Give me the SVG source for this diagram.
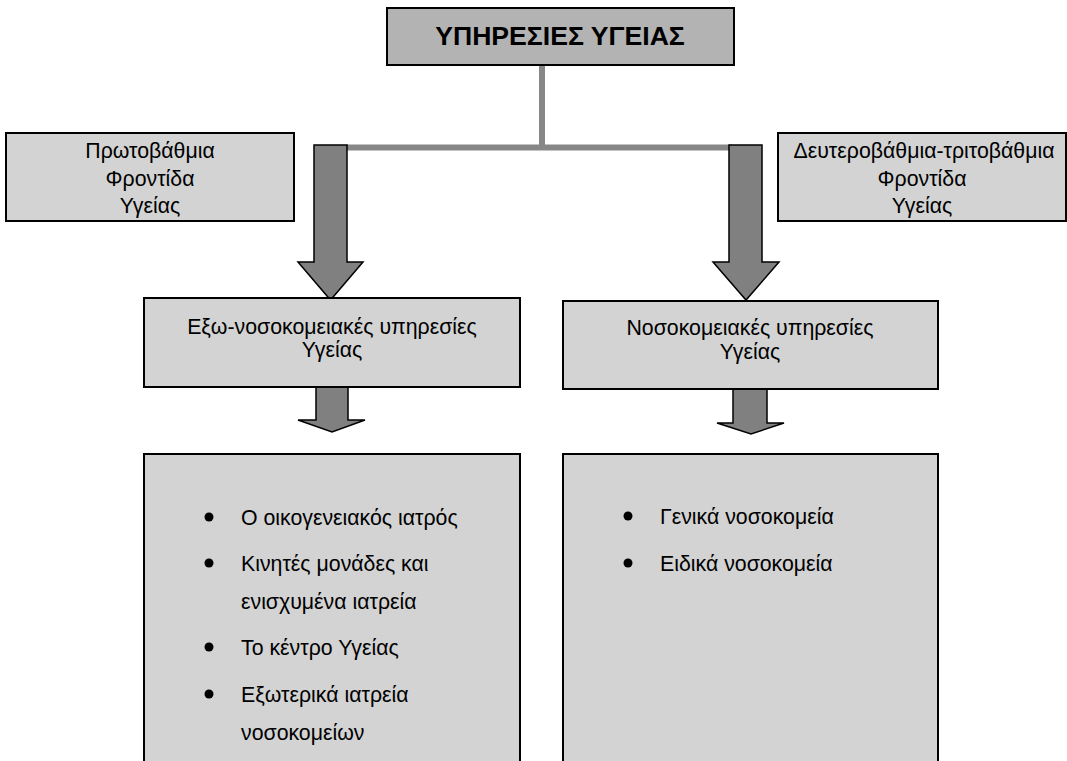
<svg xmlns="http://www.w3.org/2000/svg" width="1067" height="761" viewBox="0 0 1067 761">
<style>
.box{fill:#d3d3d3;stroke:#000;stroke-width:2}
.top{fill:#b3b3b3;stroke:#000;stroke-width:2}
.arrow{fill:#808080;stroke:#000;stroke-width:1.5;stroke-linejoin:miter}
.conn{stroke:#878787;stroke-width:6;fill:none}
text{font-family:"Liberation Sans",Arial,sans-serif;font-size:21.3px;fill:#000}
.c{text-anchor:middle}
.title{font-size:26.6px;font-weight:bold}
</style>
<rect width="1067" height="761" fill="#fff"/>
<g id="connectors">
<path class="conn" d="M542 65 V150"/>
<path class="conn" d="M346 147.5 H732"/>
<path class="arrow" d="M314 145 H347 V262 H363 L330.5 300 L298 262 H314 Z"/>
<path class="arrow" d="M729 145 H762 V262 H779 L746 300 L713 262 H729 Z"/>
<path class="arrow" d="M316 387 H348 V420 H365 L332 432 L298 420 H316 Z"/>
<path class="arrow" d="M733 389 H767 V423 H784 L751 434 L717 423 H733 Z"/>
</g>
<g id="node-top">
<rect class="top" x="387" y="8" width="347" height="57"/>
<text class="c title" x="560" y="45">ΥΠΗΡΕΣΙΕΣ ΥΓΕΙΑΣ</text>
</g>
<g id="node-primary">
<rect class="box" x="6" y="133" width="288" height="88"/>
<text class="c" x="150" y="158">Πρωτοβάθμια</text>
<text class="c" x="150" y="186">Φροντίδα</text>
<text class="c" x="150" y="213">Υγείας</text>
</g>
<g id="node-secondary">
<rect class="box" x="778" y="133" width="288" height="88"/>
<text class="c" x="924" y="158">Δευτεροβάθμια-τριτοβάθμια</text>
<text class="c" x="922" y="186">Φροντίδα</text>
<text class="c" x="922" y="213">Υγείας</text>
</g>
<g id="node-outpatient">
<rect class="box" x="144" y="298" width="376" height="89"/>
<text class="c" x="332" y="334">Εξω-νοσοκομειακές υπηρεσίες</text>
<text class="c" x="332" y="357">Υγείας</text>
</g>
<g id="node-hospital">
<rect class="box" x="563" y="301" width="375" height="88"/>
<text class="c" x="750" y="335">Νοσοκομειακές υπηρεσίες</text>
<text class="c" x="750" y="359">Υγείας</text>
</g>
<g id="node-outpatient-list">
<rect class="box" x="144" y="454" width="376" height="320"/>
<circle cx="209" cy="517" r="4.5"/>
<text x="241" y="525">Ο οικογενειακός ιατρός</text>
<circle cx="209" cy="563" r="4.5"/>
<text x="241" y="571">Κινητές μονάδες και</text>
<text x="241" y="609">ενισχυμένα ιατρεία</text>
<circle cx="209" cy="647" r="4.5"/>
<text x="241" y="655">Το κέντρο Υγείας</text>
<circle cx="209" cy="694" r="4.5"/>
<text x="241" y="702">Εξωτερικά ιατρεία</text>
<text x="241" y="740">νοσοκομείων</text>
</g>
<g id="node-hospital-list">
<rect class="box" x="563" y="454" width="375" height="320"/>
<circle cx="628" cy="516" r="4.5"/>
<text x="660" y="524">Γενικά νοσοκομεία</text>
<circle cx="628" cy="563" r="4.5"/>
<text x="660" y="571">Ειδικά νοσοκομεία</text>
</g>
</svg>
